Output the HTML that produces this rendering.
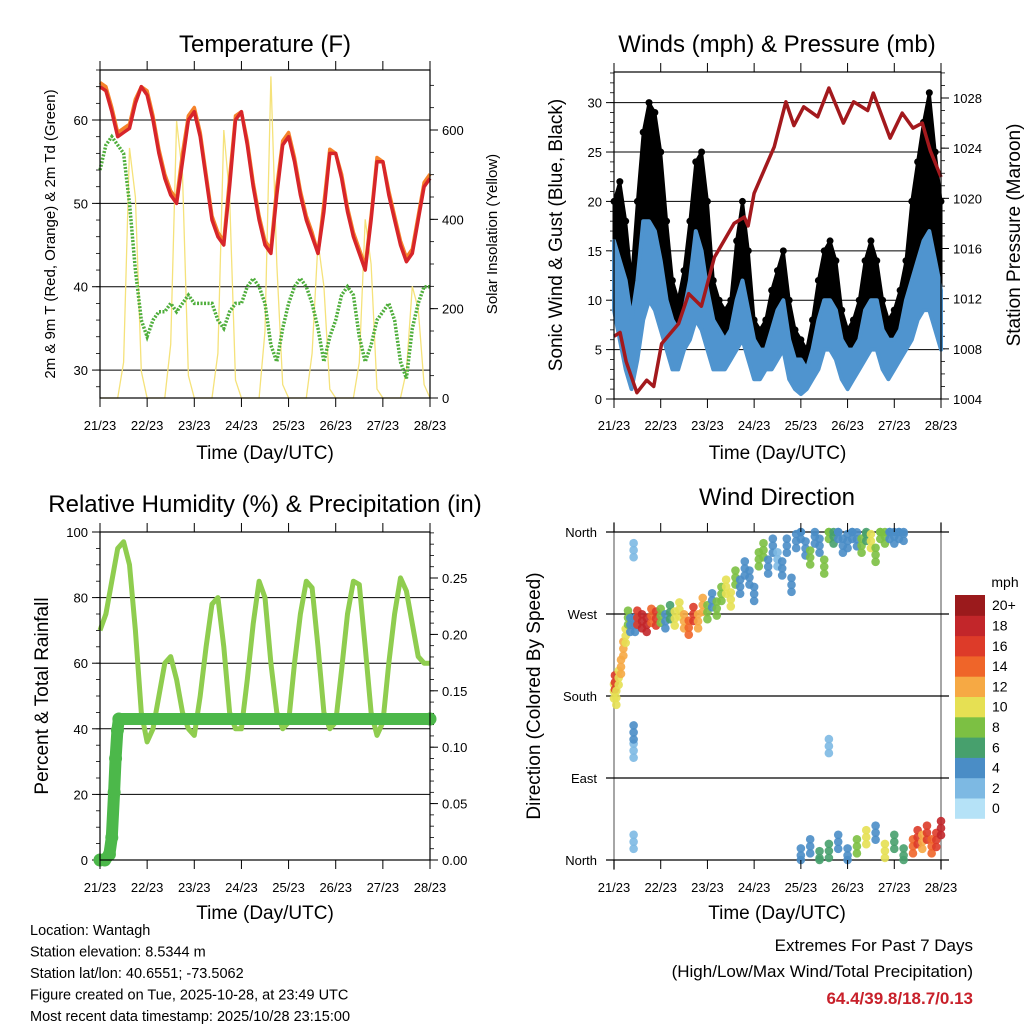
<!DOCTYPE html>
<html><head><meta charset="utf-8"><style>
body{margin:0;background:#fff}
svg{display:block;font-family:"Liberation Sans",sans-serif}
</style></head><body>
<svg id="s" width="1024" height="1024" viewBox="0 0 1024 1024" xmlns="http://www.w3.org/2000/svg"></svg>
<script>
// ---------- data (3-hourly, index 0 = 21/00 UTC, index 56 = 28/00 UTC) ----------
const dayLabels = ["21/23","22/23","23/23","24/23","25/23","26/23","27/23","28/23"];
const tempRed = [64,63.5,61,58,58.5,59,62,64, 63,60,56,53,51,50,55,60, 61,58,53,48,46,45,52,60, 61,57,52,48,45,44,51,57, 58,55,51,48,46,44,49,56, 56,53,49,46,44,42,48,55, 55,51,48,45,43,44,48,52, 53];
const tempOrange = [64.5,64,61.5,58.5,59,59.5,62.5,64, 63.5,60.5,56.5,53.5,51.5,50.5,56,60.5, 61.5,58.5,53.5,48.5,46.5,45.5,53,60.5, 61,57.5,52.5,48.5,45.5,44.5,52,57.5, 58.5,55.5,51.5,48.5,46.5,44,50,56.5, 56,53.5,49.5,46.5,44.5,42.5,48.5,55.5, 55,51.5,48.5,45.5,43.5,44.5,48.5,52.5, 53.5];
const dewGreen = [54,57,58,57,56,50,42,36, 34,36,37,37,38,37,38,39, 38,38,38,38,36,35,37,38, 38,40,41,40,38,33,31,35, 38,40,41,40,38,35,31,34, 36,39,40,39,34,31,33,36, 37,38,36,31,29,35,38,40, 40];
const solar = [0,0,0,0,80,560,450,60, 0,0,0,0,120,620,500,50, 0,0,0,0,100,600,450,40, 0,0,0,0,150,720,300,30, 0,0,0,0,100,350,250,20, 0,0,0,0,80,400,300,20, 0,0,0,0,60,250,200,30, 0];
const gustHi = [20,22,18,12,20,27,30,29,25,18,12,10,13,18,24,25,20,12,10,9,10,16,20,15,8,7,8,11,13,15,10,7,6,5,8,12,15,16,14,9,7,8,10,14,16,14,10,8,9,11,14,20,24,28,31,25,20];
const windHi = [16,14,12,8,12,18,18,17,14,10,8,7,9,12,17,15,11,8,7,6,7,10,12,9,6,5,5,7,9,10,6,4,4,3,5,8,10,10,9,6,5,5,6,9,10,10,7,6,6,7,10,12,14,16,17,14,11];
const windLo = [9,6,3,1,4,8,10,9,7,5,3,3,5,6,8,7,5,3,3,3,4,5,6,4,2,2,3,3,4,5,2,1,0.5,1,2,3,5,5,4,2,1,2,3,4,5,5,3,2,3,4,5,6,8,9,9,7,5];
const presTime = [21,21.13,21.26,21.49,21.7,21.85,22.02,22.38,22.6,22.87,23.15,23.57,23.79,23.87,24,24.43,24.68,24.85,25.06,25.36,25.6,25.91,26.13,26.43,26.55,26.91,27.17,27.4,27.6,27.77,28];
const presVal = [1009,1009.3,1007,1004.5,1005.5,1005,1008.4,1010,1012.4,1011.4,1015.3,1018,1018.5,1017.8,1020.4,1024.1,1027.7,1025.8,1027.3,1026.5,1028.8,1026,1027.7,1027,1028.4,1024.8,1026.8,1025.6,1026,1023.8,1021.7];
const rh = [70,75,85,95,97,90,70,45, 36,40,50,60,62,55,45,40, 38,50,65,78,80,65,45,40, 40,55,72,85,80,60,45,40, 42,60,75,85,83,65,45,40, 42,58,75,85,84,65,45,38, 42,60,75,86,82,72,62,60, 60];
const rainTime = [21,21.1,21.2,21.25,21.3,21.33,21.37,21.4,28];
const rainVal = [0,0,0.005,0.02,0.06,0.09,0.115,0.125,0.125];
const wdTime = [21.0,21.02,21.05,21.1,21.15,21.2,21.25,21.3,21.35,21.42,21.42,21.42,21.45,21.5,21.6,21.7,21.8,21.9,22.0,22.1,22.2,22.3,22.4,22.5,22.6,22.7,22.8,22.9,23.0,23.1,23.2,23.3,23.4,23.5,23.6,23.7,23.8,23.9,24.0,24.1,24.2,24.3,24.4,24.5,24.6,24.7,24.8,24.9,25.0,25.1,25.2,25.3,25.4,25.5,25.6,25.7,25.8,25.9,26.0,26.1,26.2,26.3,26.4,26.5,26.6,26.7,26.8,26.9,27.0,27.1,27.2,25.0,25.2,25.4,25.6,25.8,26.0,26.2,26.4,26.6,26.8,27.0,27.2,27.4,27.5,27.6,27.7,27.8,27.9,28.0,25.6,21.42];
const wdDir = [185,195,178,200,212,232,246,266,258,120,140,20,258,266,262,258,268,265,268,262,272,265,275,262,255,270,262,280,272,285,276,292,300,286,310,300,320,310,292,330,340,322,345,330,320,345,302,350,360,342,332,355,345,322,360,355,360,345,350,360,352,345,358,350,335,360,355,360,355,360,358,5,15,2,10,20,5,15,25,30,10,20,5,15,25,20,30,15,22,35,125,340];
const wdSpd = [10,15,10,9,12,12,10,7,4,2,3,2,4,16,18,17,14,16,7,4,6,9,10,12,13,15,12,12,7,4,7,7,9,10,7,4,4,3,4,7,8,4,4,2,3,4,3,4,4,4,7,4,4,8,7,6,4,4,4,3,4,8,6,10,8,8,8,4,4,4,3,4,4,6,6,4,4,8,9,4,10,6,6,13,16,12,15,13,16,18,2,1];
// ---------- helpers ----------
const NS="http://www.w3.org/2000/svg", S=document.getElementById('s');
function el(tag,attrs,parent,text){const e=document.createElementNS(NS,tag);for(const k in attrs)e.setAttribute(k,attrs[k]);if(text!==undefined)e.textContent=text;(parent||S).appendChild(e);return e;}
function group(name){const g=document.createElementNS(NS,'g');


S.appendChild(g);return g;}
function txt(g,x,y,s,size,anchor,name,extra){const t=el('text',Object.assign({x:x,y:y,'font-size':size,'text-anchor':anchor||'middle',fill:'#000'},extra||{}),g,s);


return t;}
function vtxt(g,x,y,s,size,name){const t=el('text',{x:0,y:0,'font-size':size,'text-anchor':'middle',transform:`translate(${x},${y}) rotate(-90)`},g,s);


return t;}
function mkX(x0,x1){return d=>x0+(d-21)/7*(x1-x0);}
function mkY(y0,y1,v0,v1){return v=>y0+(v-v0)/(v1-v0)*(y1-y0);}
function idxDay(i){return 21+i/8;}
function xAxis(g,X,yb,yt,labelY,titleY){
  dayLabels.forEach((l,i)=>{const x=X(21+i);
    el('line',{x1:x,x2:x,y1:yb,y2:yb+9,stroke:'#000','stroke-width':1},g);
    el('line',{x1:x,x2:x,y1:yt,y2:yt-9,stroke:'#000','stroke-width':1},g);
    txt(g,x,labelY,l,13,'middle','x-tick-label');});
  txt(g,(X(21)+X(28))/2,titleY,'Time (Day/UTC)',19,'middle','x-axis-title');
}
function frame(g,x0,y0,x1,y1){el('rect',{x:x0,y:y0,width:x1-x0,height:y1-y0,fill:'none',stroke:'#000','stroke-width':1.2},g);}
function yTicks(g,Y,vals,x0,x1,side,fmt,grid,minorStep,vmin,vmax){
  vals.forEach(v=>{const y=Y(v);
    if(grid) el('line',{x1:x0,x2:x1,y1:y,y2:y,stroke:'#000','stroke-width':1},g);
    const xa=side==='l'?x0:x1, dir=side==='l'?-1:1;
    el('line',{x1:xa,x2:xa+dir*8,y1:y,y2:y,stroke:'#000','stroke-width':1},g);
    txt(g,xa+dir*12,y+5,fmt(v),13,side==='l'?'end':'start','y-tick-label');});
  if(minorStep){for(let v=vmin;v<=vmax+1e-9;v+=minorStep){const y=Y(v);const xa=side==='l'?x0:x1,dir=side==='l'?-1:1;
    el('line',{x1:xa,x2:xa+dir*4,y1:y,y2:y,stroke:'#000','stroke-width':0.8},g);}}
}
function pts(arrX,arrY){return arrX.map((x,i)=>x.toFixed(1)+','+arrY[i].toFixed(1)).join(' ');}

// ================= Panel 1: Temperature =================
(function(){
const g=group('temperature-panel');
const L=100,R=430,T=70,B=398;
const X=mkX(L,R), Y=mkY(B,T,26.65,66), YS=mkY(B,130,0,600);
txt(g,265,52,'Temperature (F)',24,'middle','temperature-title');
yTicks(g,Y,[30,40,50,60],L,R,'l',v=>v,true,2,28,66);
yTicks(g,YS,[0,200,400,600],L,R,'r',v=>v,false,50,0,700);
const xs=solar.map((_,i)=>X(idxDay(i)));
const sl=el('polyline',{points:pts(xs,solar.map(YS)),fill:'none',stroke:'#f5e27a','stroke-width':1.3},g);


const dg=el('polyline',{points:pts(xs,dewGreen.map(Y)),fill:'none',stroke:'#4fae3c','stroke-width':3.5,'stroke-dasharray':'2 1.5'},g);


const to=el('polyline',{points:pts(xs,tempOrange.map(Y)),fill:'none',stroke:'#f5822a','stroke-width':3.5,'stroke-linejoin':'round'},g);


const tr=el('polyline',{points:pts(xs,tempRed.map(Y)),fill:'none',stroke:'#d7252a','stroke-width':3.5,'stroke-linejoin':'round'},g);


frame(g,L,T,R,B);
xAxis(g,X,B,T,430,459);
vtxt(g,55,234,'2m & 9m T (Red, Orange) & 2m Td (Green)',15,'left-y-axis-title');
vtxt(g,497,234,'Solar Insolation (Yellow)',15,'right-y-axis-title');
})();

// ================= Panel 2: Winds & Pressure =================
(function(){
const g=group('winds-panel');
const L=614,R=941,T=72,B=399;
const X=mkX(L,R), Y=mkY(B,T,0,33.1), YP=mkY(B,98,1004,1028);
txt(g,777,52,'Winds (mph) & Pressure (mb)',24,'middle','winds-title');
yTicks(g,Y,[0,5,10,15,20,25,30],L,R,'l',v=>v,true,1,0,33);
yTicks(g,YP,[1004,1008,1012,1016,1020,1024,1028],L,R,'r',v=>v,false,1,1004,1030);
const xs=gustHi.map((_,i)=>X(idxDay(i)));
const top=pts(xs,gustHi.map(Y)), bot=pts(xs.slice().reverse(),windLo.map(Y).reverse());
const ga=el('polygon',{points:top+' '+bot,fill:'#000',stroke:'#000','stroke-width':3,'stroke-linejoin':'round'},g);


gustHi.forEach((v,i)=>{const c=el('circle',{cx:xs[i],cy:Y(v),r:3.5,fill:'#000'},g);

});
const wtop=pts(xs,windHi.map(Y)), wbot=pts(xs.slice().reverse(),windLo.map(Y).reverse());
const wa=el('polygon',{points:wtop+' '+wbot,fill:'#4f94cf',stroke:'#4f94cf','stroke-width':4,'stroke-linejoin':'round'},g);


const pl=el('polyline',{points:pts(presTime.map(X),presVal.map(YP)),fill:'none',stroke:'#a3191d','stroke-width':3.5,'stroke-linejoin':'round'},g);


frame(g,L,T,R,B);
xAxis(g,X,B,T,430,459);
vtxt(g,562,235,'Sonic Wind & Gust (Blue, Black)',19,'left-y-axis-title');
vtxt(g,1020,235,'Station Pressure (Maroon)',19,'right-y-axis-title');
})();

// ================= Panel 3: RH & Precip =================
(function(){
const g=group('humidity-panel');
const L=100,R=430,T=532,B=860;
const X=mkX(L,R), Y=mkY(B,T,0,100), YR=mkY(B,578,0,0.25);
txt(g,265,512,'Relative Humidity (%) & Precipitation (in)',24,'middle','humidity-title');
yTicks(g,Y,[0,20,40,60,80,100],L,R,'l',v=>v,true,5,0,100);
yTicks(g,YR,[0,0.05,0.1,0.15,0.2,0.25],L,R,'r',v=>v.toFixed(2),false,0.01,0,0.29);
const xs=rh.map((_,i)=>X(idxDay(i)));
const rl=el('polyline',{points:pts(xs,rh.map(Y)),fill:'none',stroke:'#8fcd4f','stroke-width':5,'stroke-linejoin':'round'},g);


const pr=el('polyline',{points:pts(rainTime.map(X),rainVal.map(YR)),fill:'none',stroke:'#4cb84a','stroke-width':12,'stroke-linecap':'round','stroke-linejoin':'round'},g);


rainTime.forEach((t,i)=>{const c=el('circle',{cx:X(t),cy:YR(rainVal[i]),r:6.5,fill:'#4cb84a'},g);

});
frame(g,L,T,R,B);
xAxis(g,X,B,T,892,919);
vtxt(g,48,696,'Percent & Total Rainfall',19,'left-y-axis-title');
})();

// ================= Panel 4: Wind Direction =================
const spdColors=['#b5e2f7','#7db9e3','#4a8dc6','#47a06d','#7cc043','#e6e053','#f6a944','#ef6529','#dd3b29','#c2262a','#9b1a1c'];
const spdLabels=['0','2','4','6','8','10','12','14','16','18','20+'];
(function(){
const g=group('wind-direction-panel');
const L=614,R=941,T=532,B=860;
const X=mkX(L,R), Y=mkY(B,T,0,360);
txt(g,777,505,'Wind Direction',24,'middle','wind-direction-title');
el('line',{x1:L,x2:L,y1:T-10,y2:B+10,stroke:'#888','stroke-width':1.5},g);
el('line',{x1:R,x2:R,y1:T-10,y2:B+10,stroke:'#888','stroke-width':1.5},g);
[['North',0],['East',90],['South',180],['West',270],['North',360]].forEach(([n,v])=>{const y=Y(v);
  el('line',{x1:L-8,x2:R+8,y1:y,y2:y,stroke:'#000','stroke-width':1.2},g);
  txt(g,597,y+5,n,13,'end','direction-tick-label');});
wdTime.forEach((t,i)=>{const ci=Math.min(10,Math.round(wdSpd[i]/2));
  [-7,0,7].forEach(o=>{const c=el('circle',{cx:X(t),cy:Math.max(T,Math.min(B,Y(wdDir[i])+o)),r:4.3,fill:spdColors[ci],'fill-opacity':0.9},g);
  
  });});
dayLabels.forEach((l,i)=>{const x=X(21+i);
  el('line',{x1:x,x2:x,y1:B,y2:B+9,stroke:'#000'},g);el('line',{x1:x,x2:x,y1:T,y2:T-9,stroke:'#000'},g);
  txt(g,x,892,l,13,'middle','x-tick-label');});
txt(g,777,919,'Time (Day/UTC)',19,'middle','x-axis-title');
vtxt(g,540,696,'Direction (Colored By Speed)',19,'left-y-axis-title');
// colorbar
const cb=group('speed-colorbar');
txt(cb,1005,587,'mph',14,'middle','colorbar-title');
const h=20.3;
spdColors.forEach((c,i)=>{const y=595+(10-i)*h;
  const r=el('rect',{x:955,y:y,width:30,height:h+0.5,fill:c},cb);
  
  
  txt(cb,992,y+h/2+5,spdLabels[i],14,'start','colorbar-label');});
})();

// ================= Footer text =================
(function(){
const g=group('station-info');
['Location: Wantagh','Station elevation: 8.5344 m','Station lat/lon: 40.6551; -73.5062','Figure created on Tue, 2025-10-28, at 23:49 UTC','Most recent data timestamp: 2025/10/28 23:15:00']
 .forEach((s,i)=>txt(g,30,935+i*21.5,s,14.5,'start','station-info-line'));
const e=group('extremes-summary');
txt(e,973,951,'Extremes For Past 7 Days',17,'end','extremes-title');
txt(e,973,977,'(High/Low/Max Wind/Total Precipitation)',17,'end','extremes-subtitle');
txt(e,973,1004,'64.4/39.8/18.7/0.13',17,'end','extremes-values',{fill:'#c8202a','font-weight':'bold'});
})();
</script>
</body></html>
